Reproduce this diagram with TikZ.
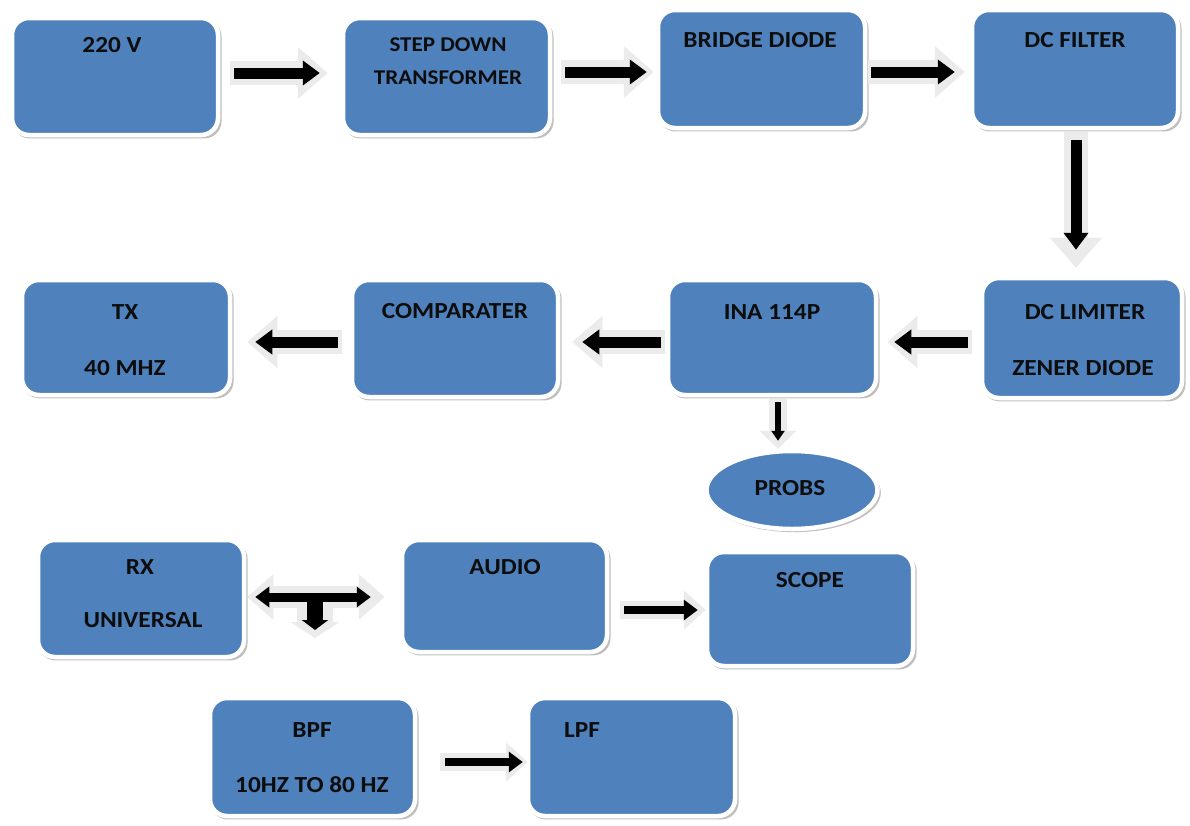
\documentclass[tikz,border=0pt]{standalone}
\usepackage{fontspec}
\setmainfont{Carlito}[FakeStretch=1.1]
\usetikzlibrary{arrows.meta,shapes.geometric,shadows}
\definecolor{boxblue}{HTML}{4F81BD}
\definecolor{arrbgc}{HTML}{EBEBEB}
\begin{document}
\begin{tikzpicture}[x=1pt,y=-1pt,
  box/.style={draw=white, line width=4.5pt, fill=boxblue, rounded corners=17pt,
    drop shadow={shadow xshift=2pt, shadow yshift=-2.5pt, shadow scale=1.015, fill=black!45, opacity=0.55},
    inner sep=0pt},
  lbl/.style={font=\fontsize{23}{27}\selectfont\bfseries, text=black!95, inner sep=0pt},
  slbl/.style={font=\fontsize{21}{25}\selectfont\bfseries, text=black!95, inner sep=0pt},
  bga/.style={draw=arrbgc, line width=24pt, -{Triangle[length=30pt,width=50pt]}},
  fga/.style={draw=black, line width=11pt, -{Triangle[length=17pt,width=24pt]}},
  bgs/.style={draw=arrbgc, line width=18pt, -{Triangle[length=22pt,width=38pt]}},
  fgs/.style={draw=black, line width=8pt, -{Triangle[length=14pt,width=20pt]}},
]
\useasboundingbox (0,0) rectangle (1190,825);
\fill[white] (0,0) rectangle (1190,825);

% boxes
\node[box, minimum width=206pt, minimum height=117pt] (b1) at (115,76.5) {};
\node[box, minimum width=207pt, minimum height=117pt] (b2) at (446.5,76.5) {};
\node[box, minimum width=207pt, minimum height=118pt] (b3) at (761.5,69) {};
\node[box, minimum width=206pt, minimum height=118pt] (b4) at (1075,69) {};
\node[box, minimum width=200pt, minimum height=120pt] (b5) at (1082,338) {};
\node[box, minimum width=208pt, minimum height=115pt] (b6) at (772,337.5) {};
\node[box, minimum width=206pt, minimum height=117pt] (b7) at (455,338.5) {};
\node[box, minimum width=208pt, minimum height=115pt] (b8) at (126,337.5) {};
\node[box, ellipse, minimum width=171pt, minimum height=78pt] (pr) at (792,490) {};
\node[box, minimum width=206pt, minimum height=117pt] (rx) at (141,598.5) {};
\node[box, minimum width=205pt, minimum height=112pt] (au) at (504.5,596) {};
\node[box, minimum width=206pt, minimum height=114pt] (sc) at (810,609) {};
\node[box, minimum width=205pt, minimum height=118pt] (bp) at (312.5,757) {};
\node[box, minimum width=207pt, minimum height=118pt] (lp) at (631.5,757) {};

% labels
\node[lbl] (t1) at (112,45) {220 V};
\node[slbl] (t2a) at (448,45) {STEP DOWN};
\node[slbl] (t2b) at (448,78) {TRANSFORMER};
\node[lbl] (t3) at (760,40) {BRIDGE DIODE};
\node[lbl] (t4) at (1075,40) {DC FILTER};
\node[lbl] (t5a) at (1085,312) {DC LIMITER};
\node[lbl] (t5b) at (1083,368) {ZENER DIODE};
\node[lbl] (t6) at (772,312) {INA 114P};
\node[lbl] (t7) at (455,311) {COMPARATER};
\node[lbl] (t8a) at (125,312) {TX};
\node[lbl] (t8b) at (125,368) {40 MHZ};
\node[lbl] (tp) at (790,488) {PROBS};
\node[lbl] (trxa) at (140,567) {RX};
\node[lbl] (trxb) at (143,620) {UNIVERSAL};
\node[lbl] (tau) at (505,567) {AUDIO};
\node[lbl] (tsc) at (810,580) {SCOPE};
\node[lbl] (tbpa) at (312,730) {BPF};
\node[lbl] (tbpb) at (312,785) {10HZ TO 80 HZ};
\node[lbl] (tlp) at (582,730) {LPF};

% row 1 arrows
\draw[bga, shorten <=10pt, shorten >=13pt] ([yshift=3.5pt]b1.east) -- ([yshift=3.5pt]b2.west);
\draw[fga, shorten <=14pt, shorten >=21pt] ([yshift=3.5pt]b1.east) -- ([yshift=3.5pt]b2.west);
\draw[bga, shorten <=9pt, shorten >=2pt] ([yshift=4.5pt]b2.east) -- ([yshift=-3pt]b3.west);
\draw[fga, shorten <=13pt, shorten >=9pt] ([yshift=4.5pt]b2.east) -- ([yshift=-3pt]b3.west);
\draw[bga, shorten <=1pt, shorten >=5pt] ([yshift=-3pt]b3.east) -- ([yshift=-3pt]b4.west);
\draw[fga, shorten <=4pt, shorten >=15pt] ([yshift=-3pt]b3.east) -- ([yshift=-3pt]b4.west);
% down
\draw[bga, shorten <=2pt, shorten >=8pt] ([xshift=1pt]b4.south) -- ([xshift=1pt]b4.south |- b5.north);
\draw[fga, shorten <=10pt, shorten >=26pt] ([xshift=1pt]b4.south) -- ([xshift=1pt]b4.south |- b5.north);
% row 2 arrows (leftward)
\draw[bga, shorten <=8pt, shorten >=9pt] ([yshift=-4pt]b5.west) -- ([yshift=-4.5pt]b6.east);
\draw[fga, shorten <=12pt, shorten >=16pt] ([yshift=-4pt]b5.west) -- ([yshift=-4.5pt]b6.east);
\draw[bga, shorten <=1pt, shorten >=12pt] ([yshift=-4.5pt]b6.west) -- ([yshift=-3.5pt]b7.east);
\draw[fga, shorten <=5pt, shorten >=22pt] ([yshift=-4.5pt]b6.west) -- ([yshift=-3.5pt]b7.east);
\draw[bga, shorten <=8pt, shorten >=15pt] ([yshift=-3.5pt]b7.west) -- ([yshift=-4.5pt]b8.east);
\draw[fga, shorten <=12pt, shorten >=23pt] ([yshift=-3.5pt]b7.west) -- ([yshift=-4.5pt]b8.east);
% to probs
\draw[draw=arrbgc, line width=18pt, -{Triangle[length=18pt,width=36pt]}, shorten <=2pt]
  ([xshift=6pt]b6.south) -- ([xshift=6pt]b6.south |- pr.north);
\draw[draw=black, line width=6pt, -{Triangle[length=10pt,width=13pt]}, shorten <=5pt, shorten >=8pt]
  ([xshift=6pt]b6.south) -- ([xshift=6pt]b6.south |- pr.north);
% T connector between RX and AUDIO
\coordinate (tmid) at (315,597);
\coordinate (tend) at (315,638);
\draw[draw=arrbgc, line width=36pt, -{Triangle[length=16pt,width=48pt]}, shorten <=1pt]
  (tmid) -- (tend);
\draw[draw=arrbgc, line width=22pt, {Triangle[length=26pt,width=44pt]}-{Triangle[length=26pt,width=44pt]},
  shorten <=1pt, shorten >=15pt] ([yshift=1.5pt]rx.east) -- ([yshift=-1pt]au.west);
\draw[draw=black, line width=9pt, {Triangle[length=14pt,width=20pt]}-{Triangle[length=14pt,width=20pt]},
  shorten <=9pt, shorten >=29pt] ([yshift=1.5pt]rx.east) -- ([yshift=-1pt]au.west);
\draw[draw=black, line width=16pt, -{Triangle[length=10pt,width=26pt]}, shorten >=8pt]
  (tmid) -- (tend);
% audio -> scope
\draw[bgs, shorten <=11pt, shorten >=-1pt] ([yshift=-14pt]au.east) -- ([yshift=-1pt]sc.west);
\draw[fgs, shorten <=15pt, shorten >=7pt] ([yshift=-14pt]au.east) -- ([yshift=-1pt]sc.west);
% bpf -> lpf
\draw[bgs, shorten <=23pt, shorten >=-2pt] ([yshift=-5pt]bp.east) -- ([yshift=-5pt]lp.west);
\draw[fgs, shorten <=28pt, shorten >=3pt] ([yshift=-5pt]bp.east) -- ([yshift=-5pt]lp.west);
\end{tikzpicture}
\end{document}
